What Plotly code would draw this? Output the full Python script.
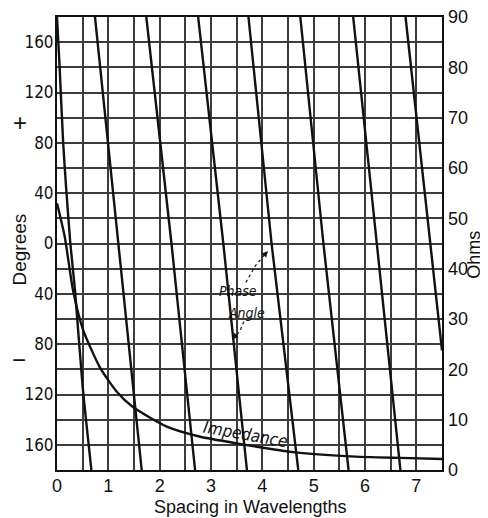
import plotly.graph_objects as go

# ---------------- data ----------------
X_TICKS = [0, 1, 2, 3, 4, 5, 6, 7]
DEG_TICKS = [160, 120, 80, 40, 0, -40, -80, -120, -160]
DEG_TICK_TEXT = ["160", "120", "80", "40", "0", "40", "80", "120", "160"]
OHM_TICKS = [0, 10, 20, 30, 40, 50, 60, 70, 80, 90]

# first phase-angle line (curved near the origin)
PHASE1_X = [0.0, 0.05, 0.12, 0.18, 0.26, 0.35, 0.50, 0.67]
PHASE1_DEG = [180, 141, 80, 43, 0, -37, -114, -180]

# remaining phase-angle lines: spacing where the angle is +180, 0 and -180 deg
PHASE_X_TOP = [0.74, 1.74, 2.75, 3.73, 4.74, 5.77, 6.79]
PHASE_X_ZERO = [1.20, 2.23, 3.24, 4.18, 5.19, 6.23, 7.27]
PHASE_X_BOTTOM = [1.65, 2.69, 3.70, 4.70, 5.68, 6.69, None]
LAST_LINE_END_X = 7.5
LAST_LINE_END_DEG = -85

# impedance curve (ohms)
IMP_X = [0.0, 0.15, 0.31, 0.51, 0.83, 1.16, 1.48, 2.14, 2.79, 3.5, 4.64, 5.71, 6.69, 7.5]
IMP_OHMS = [53, 46.4, 35.8, 27.8, 20.5, 15.6, 12.5, 8.6, 6.6, 5.3, 3.5, 2.7, 2.4, 2.2]

# ---------------- figure ----------------
LINE_COLOR = "#111111"
GRID_COLOR = "#3c3c3c"
FONT = "Liberation Sans, Arial, DejaVu Sans, sans-serif"
NARROW = "Liberation Sans Narrow, Arial Narrow, DejaVu Sans Condensed, Liberation Sans, sans-serif"

fig = go.Figure()

fig.add_trace(go.Scatter(x=PHASE1_X, y=PHASE1_DEG, mode="lines",
                         line=dict(color=LINE_COLOR, width=2.4, shape="spline", smoothing=0.6),
                         hoverinfo="skip"))
for i, (xt, xz, xb) in enumerate(zip(PHASE_X_TOP, PHASE_X_ZERO, PHASE_X_BOTTOM)):
    if xb is None:
        xs = [xt, xz, LAST_LINE_END_X]
        ys = [180, 0, LAST_LINE_END_DEG]
    else:
        xs = [xt, xz, xb]
        ys = [180, 0, -180]
    fig.add_trace(go.Scatter(x=xs, y=ys, mode="lines",
                             line=dict(color=LINE_COLOR, width=2.4), hoverinfo="skip"))

fig.add_trace(go.Scatter(x=IMP_X, y=IMP_OHMS, mode="lines", yaxis="y2",
                         line=dict(color=LINE_COLOR, width=2.4, shape="spline", smoothing=0.6),
                         hoverinfo="skip"))

# dashed leaders for the "Phase Angle" label
fig.add_trace(go.Scatter(x=[3.68, 3.86, 4.06], y=[-31, -18, -8], mode="lines",
                         line=dict(color=LINE_COLOR, width=1.2, dash="3px,3px"), hoverinfo="skip"))
fig.add_trace(go.Scatter(x=[3.64, 3.56, 3.46], y=[-62, -70, -74], mode="lines",
                         line=dict(color=LINE_COLOR, width=1.2, dash="3px,3px"), hoverinfo="skip"))

grid = dict(showgrid=True, gridcolor=GRID_COLOR, gridwidth=1.6)

# the page body adds an 8px offset, so the figure is drawn 8px smaller
fig.update_layout(
    width=480, height=510,
    margin=dict(l=49, r=46, t=9, b=48, autoexpand=False),
    paper_bgcolor="white", plot_bgcolor="white",
    showlegend=False,
    font=dict(family=FONT, color="#111111", size=18),
    xaxis=dict(range=[0, 7.5], tickmode="array", tickvals=X_TICKS, automargin=False,
               ticks="", zeroline=False, showline=True, linecolor=LINE_COLOR,
               linewidth=2, mirror=True, ticklabelstandoff=-2,
               tickfont=dict(size=18, family=FONT), ticklabeloverflow="allow",
               minor=dict(tickmode="linear", tick0=0, dtick=0.5, **grid),
               **grid),
    yaxis=dict(range=[-180, 180], tickmode="array", tickvals=DEG_TICKS, automargin=False,
               ticktext=DEG_TICK_TEXT, ticks="", zeroline=False,
               showline=True, linecolor=LINE_COLOR, linewidth=2, mirror=True,
               tickfont=dict(size=17, family=NARROW), ticklabelstandoff=-2,
               ticklabeloverflow="allow",
               minor=dict(tickmode="linear", tick0=0, dtick=20, **grid),
               **grid),
    yaxis2=dict(range=[0, 90], overlaying="y", side="right", tickmode="array", automargin=False,
                tickvals=OHM_TICKS, showgrid=False, zeroline=False, ticks="",
                ticklabeloverflow="allow",
                tickfont=dict(size=18, family=FONT), ticklabelstandoff=5),
)

common = dict(showarrow=False, xanchor="center", yanchor="middle")
ann = [
    dict(text="Spacing in Wavelengths", x=0.50, y=-0.082, xref="paper", yref="paper",
         font=dict(size=18), **common),
    dict(text="Degrees", x=-0.097, y=0.486, xref="paper", yref="paper",
         textangle=-90, font=dict(size=19), **common),
    dict(text="+", x=-0.097, y=0.768, xref="paper", yref="paper",
         font=dict(size=24), **common),
    dict(text="\u2212", x=-0.100, y=0.243, xref="paper", yref="paper",
         font=dict(size=24), **common),
    dict(text="Ohms", x=1.083, y=0.475, xref="paper", yref="paper",
         textangle=-90, font=dict(size=18), **common),
    dict(text="<i>Phase</i>", x=3.52, y=-38, xref="x", yref="y",
         font=dict(size=14, family=NARROW), **common),
    dict(text="<i>Angle</i>", x=3.70, y=-55, xref="x", yref="y",
         font=dict(size=14, family=NARROW), **common),
    dict(text="<i>Impedance</i>", x=3.67, y=7.2, xref="x", yref="y2",
         textangle=10, font=dict(size=17, family=NARROW), **common),
    # arrowheads
    dict(x=4.11, y=-6, ax=4.02, ay=-10, xref="x", yref="y", axref="x", ayref="y",
         text="", showarrow=True, arrowhead=2, arrowsize=1, arrowwidth=1.2, arrowcolor=LINE_COLOR),
    dict(x=3.41, y=-76, ax=3.49, ay=-73, xref="x", yref="y", axref="x", ayref="y",
         text="", showarrow=True, arrowhead=2, arrowsize=1, arrowwidth=1.2, arrowcolor=LINE_COLOR),
]
fig.update_layout(annotations=ann)

fig.write_html("out.html")
